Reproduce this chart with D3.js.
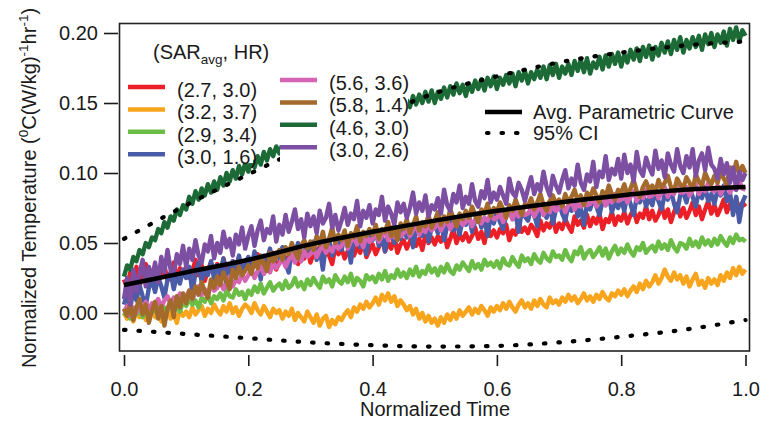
<!DOCTYPE html>
<html>
<head>
<meta charset="utf-8">
<script src="https://cdn.jsdelivr.net/npm/d3@7"></script>
<style>
body { margin: 0; background: #fff; }
text { font-family: "Liberation Sans", Arial, sans-serif; fill: #1a1a1a; }
</style>
</head>
<body>
<script>
// measured traces, read off the figure every 0.005 of normalized time
// values are in units of 0.001 (normalized temperature), one row = 0.05
var red = [24, 18, 29, 21, 33, 19, 27, 35, 22, 30,
  20, 31, 26, 34, 23, 29, 36, 24, 32, 27,
  33, 25, 30, 38, 27, 34, 23, 31, 36, 28,
  35, 27, 39, 31, 26, 37, 33, 40, 29, 34,
  38, 30, 36, 42, 33, 28, 40, 35, 43, 31,
  37, 44, 34, 41, 38, 46, 35, 42, 39, 47,
  36, 43, 40, 48, 38, 45, 41, 35, 47, 42,
  46, 39, 44, 50, 41, 47, 43, 52, 40, 45,
  49, 42, 47, 54, 44, 50, 46, 55, 43, 49,
  52, 46, 51, 57, 48, 53, 45, 56, 50, 54,
  49, 55, 51, 58, 47, 53, 60, 50, 56, 52,
  57, 51, 55, 61, 53, 58, 50, 62, 55, 59,
  54, 60, 57, 63, 52, 59, 56, 65, 58, 61,
  57, 63, 60, 55, 66, 59, 64, 61, 68, 58,
  64, 60, 67, 62, 58, 69, 63, 66, 61, 70,
  62, 68, 64, 71, 60, 67, 65, 72, 63, 69,
  66, 72, 64, 70, 74, 65, 71, 68, 76, 67,
  73, 66, 70, 77, 68, 74, 65, 72, 78, 69,
  75, 68, 73, 79, 70, 76, 67, 74, 80, 71,
  77, 70, 75, 81, 72, 78, 74, 82, 73, 79, 76];
var orange = [0, -4, 2, -6, 1, -3, 3, -5, -1, 2,
  -3, 1, -6, -1, 3, -4, 0, -7, 2, -2,
  1, -3, 4, -1, 2, 5, -2, 3, 0, 6,
  2, -1, 5, 1, 7, 0, 4, -2, 3, 6,
  4, 0, 7, 2, -1, 5, 1, -3, 3, 0,
  2, -4, 1, -2, 3, -5, 0, -3, -6, 1,
  -3, -7, -1, -9, -4, -2, -10, -5, -8, -3,
  -5, -1, 2, -3, 4, 1, 6, 3, 8, 4,
  7, 11, 6, 13, 9, 14, 8, 12, 5, 9,
  6, 2, 5, -1, 3, -4, 0, -6, -2, -7,
  -4, -9, -3, -7, -1, -5, 0, -4, 2, -2,
  1, 4, -1, 3, 0, 5, 2, -2, 4, 1,
  5, 2, 7, 3, 8, 4, 1, 6, 9, 4,
  7, 3, 9, 5, 10, 6, 4, 11, 7, 9,
  6, 11, 8, 13, 9, 12, 7, 10, 14, 9,
  12, 8, 13, 10, 15, 11, 9, 14, 12, 16,
  13, 17, 12, 16, 19, 15, 21, 17, 23, 19,
  22, 27, 21, 25, 31, 26, 23, 29, 24, 27,
  21, 26, 19, 24, 28, 20, 23, 18, 25, 21,
  24, 20, 27, 23, 29, 25, 32, 27, 33, 28, 31];
var green = [-2, 2, -4, 1, -1, 3, -3, 2, 0, 4,
  1, 5, -1, 4, 2, 7, 3, 6, 1, 8,
  5, 10, 6, 9, 4, 11, 8, 13, 7, 12,
  10, 14, 9, 16, 12, 11, 17, 13, 15, 10,
  16, 13, 19, 15, 21, 14, 18, 22, 16, 19,
  21, 17, 23, 18, 20, 25, 19, 22, 17, 24,
  20, 25, 21, 18, 26, 22, 24, 19, 27, 23,
  21, 26, 22, 28, 20, 25, 23, 19, 27, 24,
  26, 22, 28, 24, 30, 23, 27, 25, 31, 26,
  29, 25, 31, 27, 33, 26, 30, 28, 34, 29,
  32, 27, 33, 29, 35, 30, 28, 34, 31, 36,
  33, 30, 37, 32, 35, 31, 38, 34, 36, 33,
  37, 32, 39, 35, 34, 40, 36, 33, 41, 37,
  39, 35, 42, 38, 36, 43, 39, 37, 44, 40,
  41, 38, 45, 40, 37, 44, 42, 47, 39, 43,
  45, 40, 43, 47, 41, 46, 39, 44, 48, 42,
  46, 43, 49, 44, 41, 47, 45, 50, 43, 46,
  48, 44, 51, 46, 49, 45, 52, 47, 44, 50,
  49, 46, 53, 48, 51, 47, 54, 49, 52, 48,
  53, 49, 55, 51, 48, 54, 50, 56, 52, 53, 51];
var blue = [6, 14, 3, 17, 9, 20, 12, 5, 18, 23,
  15, 26, 19, 11, 24, 29, 17, 27, 21, 31,
  25, 33, 14, 29, 36, 22, 31, 27, 37, 24,
  34, 28, 39, 19, 33, 37, 30, 41, 26, 36,
  40, 31, 44, 36, 24, 41, 38, 46, 33, 43,
  39, 47, 35, 29, 45, 42, 50, 37, 44, 48,
  43, 51, 38, 46, 31, 49, 53, 41, 47, 52,
  45, 55, 49, 36, 53, 57, 47, 51, 42, 56,
  52, 59, 48, 55, 44, 58, 61, 50, 57, 53,
  60, 54, 63, 47, 59, 62, 55, 65, 51, 61,
  64, 57, 66, 52, 62, 68, 59, 65, 56, 67,
  63, 70, 58, 66, 71, 61, 68, 55, 69, 64,
  72, 65, 60, 70, 74, 67, 71, 58, 73, 69,
  66, 75, 70, 62, 76, 72, 68, 78, 64, 74,
  79, 71, 66, 77, 73, 80, 69, 75, 63, 78,
  74, 82, 76, 70, 80, 77, 84, 72, 79, 75,
  81, 73, 85, 78, 70, 83, 79, 86, 76, 82,
  77, 87, 80, 74, 85, 81, 88, 78, 72, 84,
  86, 79, 89, 83, 76, 87, 82, 90, 80, 85,
  78, 88, 84, 91, 80, 86, 70, 83, 65, 79, 84];
var pink = [1, 5, -2, 4, 0, 6, 2, 8, 3, 7,
  5, 10, 4, 9, 12, 6, 11, 8, 14, 9,
  12, 16, 10, 15, 19, 13, 17, 14, 20, 16,
  18, 23, 17, 21, 26, 19, 24, 22, 28, 23,
  27, 31, 25, 30, 34, 28, 33, 29, 36, 32,
  35, 39, 33, 38, 42, 36, 41, 37, 44, 40,
  42, 46, 40, 45, 48, 43, 47, 44, 50, 46,
  48, 52, 46, 51, 54, 49, 53, 47, 55, 51,
  53, 57, 51, 55, 59, 52, 56, 54, 60, 55,
  57, 61, 55, 59, 63, 56, 60, 58, 64, 59,
  61, 65, 59, 63, 66, 60, 64, 62, 68, 63,
  65, 68, 62, 67, 70, 64, 68, 66, 71, 67,
  68, 71, 65, 70, 73, 67, 72, 69, 74, 70,
  71, 75, 69, 73, 77, 70, 74, 72, 78, 73,
  75, 78, 72, 77, 80, 74, 78, 76, 81, 77,
  78, 82, 76, 80, 83, 77, 81, 79, 85, 80,
  81, 85, 79, 83, 87, 80, 84, 82, 88, 83,
  84, 88, 82, 86, 90, 83, 87, 85, 91, 86,
  86, 90, 84, 88, 92, 85, 89, 87, 93, 88,
  87, 91, 85, 89, 93, 86, 90, 88, 94, 89, 88];
var brown = [3, -2, 7, -5, 4, 10, -1, 6, -7, 2,
  8, -4, 5, -9, 3, 9, -3, 12, 4, 14,
  7, 16, 10, 19, 13, 22, 15, 11, 24, 18,
  26, 20, 29, 23, 17, 31, 25, 33, 27, 30,
  34, 28, 38, 32, 41, 35, 30, 43, 37, 40,
  45, 38, 47, 42, 50, 44, 39, 48, 52, 46,
  51, 45, 55, 49, 58, 47, 53, 61, 50, 56,
  52, 59, 48, 57, 54, 62, 51, 58, 55, 60,
  56, 63, 53, 60, 58, 65, 55, 61, 52, 64,
  60, 67, 57, 63, 69, 59, 65, 62, 70, 61,
  66, 72, 63, 69, 65, 74, 68, 62, 71, 67,
  73, 68, 76, 70, 65, 74, 71, 78, 69, 75,
  72, 79, 74, 68, 77, 73, 81, 75, 70, 78,
  76, 82, 74, 79, 85, 77, 73, 80, 84, 78,
  81, 76, 85, 79, 83, 88, 80, 84, 77, 86,
  82, 89, 84, 79, 87, 83, 91, 85, 81, 88,
  86, 92, 84, 89, 95, 87, 83, 90, 94, 88,
  91, 86, 95, 89, 93, 98, 90, 87, 96, 92,
  89, 97, 93, 88, 99, 94, 91, 100, 95, 92,
  98, 93, 101, 96, 92, 104, 97, 108, 99, 105, 100];
var darkGreen = [26, 34, 31, 40, 37, 45, 42, 50, 47, 54,
  52, 60, 57, 65, 61, 69, 66, 74, 70, 77,
  74, 83, 78, 87, 81, 89, 84, 92, 86, 94,
  88, 97, 91, 100, 94, 102, 96, 105, 99, 107,
  101, 109, 104, 112, 106, 115, 109, 117, 112, 119,
  114, 121, 117, 124, 118, 126, 121, 128, 123, 129,
  124, 131, 126, 133, 128, 135, 129, 136, 131, 137,
  132, 139, 134, 141, 135, 142, 137, 144, 138, 145,
  139, 147, 141, 149, 143, 150, 144, 152, 146, 153,
  144, 152, 147, 155, 149, 156, 150, 158, 151, 159,
  150, 158, 153, 161, 154, 162, 156, 164, 157, 163,
  155, 164, 158, 166, 160, 167, 159, 168, 162, 169,
  160, 168, 163, 170, 164, 171, 162, 172, 166, 173,
  164, 172, 167, 174, 168, 176, 167, 177, 170, 178,
  168, 176, 171, 178, 170, 180, 173, 181, 172, 182,
  171, 179, 175, 183, 174, 184, 176, 185, 178, 186,
  176, 185, 179, 188, 181, 189, 180, 190, 183, 191,
  181, 190, 184, 193, 186, 194, 185, 195, 188, 197,
  186, 195, 189, 197, 190, 198, 188, 199, 192, 200,
  190, 199, 193, 201, 191, 203, 195, 204, 194, 202, 198];
var purple = [10, 25, 6, 31, 15, 28, 38, 19, 33, 24,
  36, 22, 40, 29, 45, 31, 27, 42, 35, 48,
  33, 46, 38, 52, 41, 36, 49, 44, 55, 39,
  50, 43, 58, 47, 53, 41, 56, 49, 61, 46,
  55, 62, 48, 59, 66, 52, 60, 57, 69, 51,
  63, 56, 70, 58, 65, 74, 60, 67, 54, 71,
  62, 69, 57, 73, 64, 68, 78, 61, 70, 59,
  66, 75, 63, 71, 67, 80, 62, 73, 68, 77,
  64, 74, 70, 83, 66, 76, 71, 63, 79, 72,
  78, 68, 75, 86, 71, 79, 73, 84, 69, 77,
  74, 82, 71, 88, 77, 73, 85, 79, 91, 75,
  83, 78, 92, 80, 76, 87, 82, 95, 79, 86,
  81, 90, 84, 78, 96, 86, 83, 93, 88, 80,
  89, 97, 85, 92, 87, 101, 90, 84, 98, 91,
  86, 95, 102, 89, 96, 91, 106, 93, 88, 99,
  94, 108, 90, 101, 97, 112, 95, 103, 99, 110,
  96, 113, 100, 106, 94, 115, 102, 98, 111, 104,
  99, 116, 103, 109, 97, 114, 106, 101, 117, 105,
  100, 112, 104, 117, 98, 109, 114, 102, 118, 106,
  103, 96, 110, 99, 107, 93, 104, 88, 101, 95, 100];

// fitted curve and its 95% CI, read every 0.1
var fitTime = [0, 0.1, 0.2, 0.3, 0.4, 0.5, 0.6, 0.7, 0.8, 0.9, 1.0];
var avgCurve = [0.020, 0.029, 0.038, 0.049, 0.058, 0.066, 0.073, 0.079, 0.084, 0.088, 0.090];
var ciUpper = [0.053, 0.077, 0.099, 0.120, 0.139, 0.157, 0.169, 0.179, 0.186, 0.191, 0.194];
var ciLower = [-0.012, -0.015, -0.018, -0.021, -0.023, -0.024, -0.0235, -0.021, -0.017, -0.012, -0.005];

var xTicks = [0, 0.2, 0.4, 0.6, 0.8, 1.0];
var yTicks = [0, 0.05, 0.10, 0.15, 0.20];
var labels = ["(2.7, 3.0)", "(3.2, 3.7)", "(2.9, 3.4)", "(3.0, 1.6)",
              "(5.6, 3.6)", "(5.8, 1.4)", "(4.6, 3.0)", "(3.0, 2.6)"];
var colors = ["#ec1f26", "#f8a51d", "#6bbd46", "#4a5ba8",
              "#d565b4", "#a36a2c", "#1c6b36", "#7c4fa3"];
var traces = [red, orange, green, blue, pink, brown, darkGreen, purple];
var step = 0.005;

var W = 769, H = 428;
var frame = { left: 119.5, top: 23.5, right: 749.5, bottom: 351 };

var svg = d3.select("body").append("svg")
  .attr("width", W).attr("height", H);

var x = d3.scaleLinear().domain([0, 1]).range([124, 745.5]);
var y = d3.scaleLinear().domain([0, 0.2]).range([313, 33]);

svg.append("clipPath").attr("id", "plotclip")
  .append("rect")
  .attr("x", frame.left).attr("y", frame.top)
  .attr("width", frame.right - frame.left).attr("height", frame.bottom - frame.top);

var plot = svg.append("g").attr("clip-path", "url(#plotclip)");

var traceLine = d3.line()
  .x(function(d, i) { return x(i * step); })
  .y(function(d) { return y(d / 1000); });

// thick strokes so the noisy traces read as bands like the original
traces.forEach(function(t, k) {
  plot.append("path")
    .datum(t)
    .attr("d", traceLine)
    .attr("fill", "none")
    .attr("stroke", colors[k])
    .attr("stroke-width", 4.4)
    .attr("stroke-linejoin", "round");
});

var fitLine = function(vals) {
  return d3.line()
    .curve(d3.curveMonotoneX)
    .x(function(d, i) { return x(fitTime[i]); })
    .y(function(d) { return y(d); })(vals);
};

[ciUpper, ciLower].forEach(function(v) {
  plot.append("path")
    .attr("d", fitLine(v))
    .attr("fill", "none")
    .attr("stroke", "#000")
    .attr("stroke-width", 4.2)
    .attr("stroke-linecap", "round")
    .attr("stroke-dasharray", "1.5,13");
});

plot.append("path")
  .attr("d", fitLine(avgCurve))
  .attr("fill", "none")
  .attr("stroke", "#000")
  .attr("stroke-width", 4.5);

// legend blocks are opaque and hide the traces behind them
var legend = svg.append("g");
legend.append("rect").attr("x", 122).attr("y", 30).attr("width", 131).attr("height", 133).attr("fill", "#fff");
legend.append("rect").attr("x", 280).attr("y", 66).attr("width", 128).attr("height", 104).attr("fill", "#fff");

var head = legend.append("text").attr("x", 153).attr("y", 59).style("font-size", "20px");
head.append("tspan").text("(SAR");
head.append("tspan").attr("dy", 5).style("font-size", "13.5px").text("avg");
head.append("tspan").attr("dy", -5).text(", HR)");

labels.forEach(function(lab, i) {
  var col = i < 4 ? 0 : 1;
  var row = i % 4;
  var lx = col === 0 ? 128 : 280;
  var ly = col === 0 ? 87 + row * 22.4 : 80 + row * 22.4;
  legend.append("line")
    .attr("x1", lx).attr("x2", lx + 37)
    .attr("y1", ly).attr("y2", ly)
    .attr("stroke", colors[i]).attr("stroke-width", 4.5);
  legend.append("text")
    .attr("x", lx + 49).attr("y", ly + 10)
    .style("font-size", "20px")
    .text(lab);
});

legend.append("line").attr("x1", 485).attr("x2", 522).attr("y1", 112).attr("y2", 112)
  .attr("stroke", "#000").attr("stroke-width", 4.5);
legend.append("text").attr("x", 533).attr("y", 119).style("font-size", "20px").text("Avg. Parametric Curve");
legend.append("line").attr("x1", 487).attr("x2", 522).attr("y1", 133).attr("y2", 133)
  .attr("stroke", "#000").attr("stroke-width", 4.2)
  .attr("stroke-linecap", "round").attr("stroke-dasharray", "1.5,13");
legend.append("text").attr("x", 533).attr("y", 140).style("font-size", "20px").text("95% CI");

// frame
svg.append("rect")
  .attr("x", frame.left).attr("y", frame.top)
  .attr("width", frame.right - frame.left).attr("height", frame.bottom - frame.top)
  .attr("fill", "none").attr("stroke", "#222").attr("stroke-width", 1.6);

// axes
var xAxis = d3.axisBottom(x).tickValues(xTicks).tickSize(11).tickPadding(16)
  .tickFormat(d3.format(".1f"));
var gx = svg.append("g").attr("transform", "translate(0,355)").call(xAxis);
gx.select(".domain").remove();

var yAxis = d3.axisLeft(y).tickValues(yTicks).tickSize(14).tickPadding(6)
  .tickFormat(d3.format(".2f"));
var gy = svg.append("g").attr("transform", "translate(118,0)").call(yAxis);
gy.select(".domain").remove();

svg.selectAll(".tick line").attr("stroke", "#1a1a1a").attr("stroke-width", 1.6);
svg.selectAll(".tick text").style("font-size", "20px").style("font-family", "Liberation Sans, Arial, sans-serif").attr("fill", "#1a1a1a");

svg.append("text")
  .attr("x", 435).attr("y", 416)
  .attr("text-anchor", "middle")
  .style("font-size", "20px")
  .text("Normalized Time");

var yt = svg.append("text")
  .attr("transform", "translate(36,188) rotate(-90)")
  .attr("text-anchor", "middle")
  .style("font-size", "20px");
yt.append("tspan").text("Normalized Temperature (");
yt.append("tspan").attr("dy", -8).style("font-size", "13.5px").text("0");
yt.append("tspan").attr("dy", 8).text("C(W/kg)");
yt.append("tspan").attr("dy", -8).style("font-size", "13.5px").text("-1");
yt.append("tspan").attr("dy", 8).text("hr");
yt.append("tspan").attr("dy", -8).style("font-size", "13.5px").text("-1");
yt.append("tspan").attr("dy", 8).text(")");
</script>
</body>
</html>
